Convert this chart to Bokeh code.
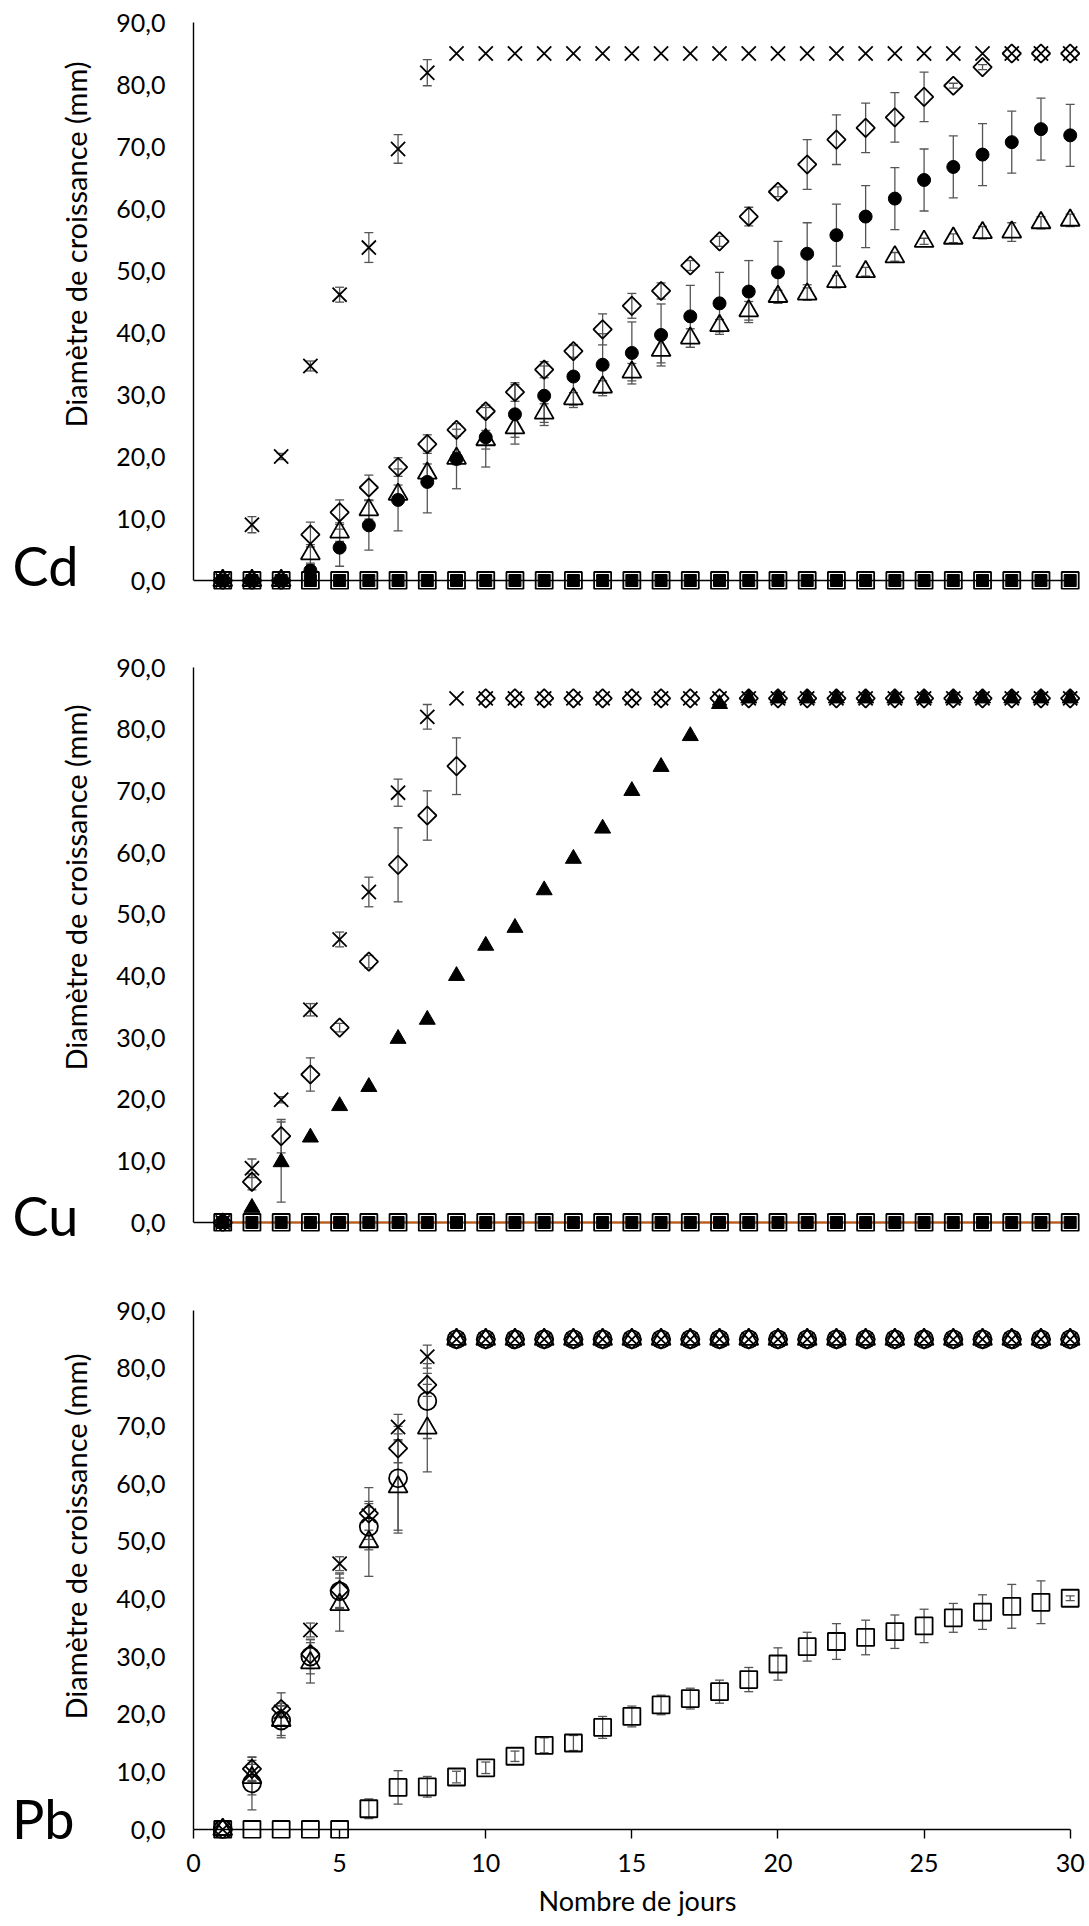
import math
from bokeh.plotting import figure
from bokeh.layouts import column, row
from bokeh.models import Range1d, Whisker, TeeHead, ColumnDataSource, FixedTicker
from bokeh.core.properties import value
from bokeh.embed import file_html
from bokeh.resources import INLINE

# ---------------- data ----------------
days = [1, 2, 3, 4, 5, 6, 7, 8, 9, 10, 11, 12, 13, 14, 15,
        16, 17, 18, 19, 20, 21, 22, 23, 24, 25, 26, 27, 28, 29, 30]
y_ticks = [0, 10, 20, 30, 40, 50, 60, 70, 80, 90]
y_tick_labels = ["0,0", "10,0", "20,0", "30,0", "40,0", "50,0", "60,0", "70,0", "80,0", "90,0"]
x_ticks = [0, 5, 10, 15, 20, 25, 30]
x_tick_labels = ["0", "5", "10", "15", "20", "25", "30"]
y_title = "Diamètre de croissance (mm)"
x_title = "Nombre de jours"
panel_names = ["Cd", "Cu", "Pb"]

# Cd
cd_x = [0, 9.0, 20.0, 34.6, 46.1, 53.7, 69.6, 81.9, 85, 85, 85, 85, 85, 85, 85,
        85, 85, 85, 85, 85, 85, 85, 85, 85, 85, 85, 85, 85, 85, 85]
cd_x_err = [0, 1.3, 0.5, 0.8, 1.2, 2.4, 2.3, 2.1, 0, 0, 0, 0, 0, 0, 0,
            0, 0, 0, 0, 0, 0, 0, 0, 0, 0, 0, 0, 0, 0, 0]
cd_diamond = [0, 0, 0, 7.4, 11.0, 15.0, 18.3, 22.0, 24.3, 27.3, 30.4, 34.0, 37.0, 40.5, 44.3,
              46.7, 50.8, 54.7, 58.7, 62.7, 67.1, 71.1, 73.0, 74.7, 78.0, 79.8, 82.8, 85, 85, 85]
cd_diamond_err = [0, 0, 0, 2.0, 2.0, 2.0, 1.5, 1.5, 1.0, 1.0, 1.5, 1.3, 1.0, 2.5, 2.0,
                  1.3, 0.8, 0.8, 1.5, 0.8, 4.0, 4.0, 4.0, 4.0, 4.0, 0.4, 0.4, 0, 0, 0]
cd_circle = [0, 0, 0, 1.6, 5.3, 8.9, 13.0, 15.9, 19.6, 23.1, 26.8, 29.8, 32.9, 34.8, 36.7,
             39.6, 42.6, 44.7, 46.6, 49.7, 52.7, 55.7, 58.7, 61.6, 64.6, 66.7, 68.7, 70.7, 72.8, 71.8]
cd_circle_err = [0, 0, 0, 1.0, 3.0, 4.0, 5.0, 5.0, 4.8, 4.8, 4.8, 4.8, 5.0, 5.0, 5.0,
                 5.0, 5.0, 5.0, 5.0, 5.0, 5.0, 5.0, 5.0, 5.0, 5.0, 5.0, 5.0, 5.0, 5.0, 5.0]
cd_triangle = [0, 0, 0, 4.3, 7.8, 11.4, 13.9, 17.3, 19.7, 22.7, 24.6, 27.0, 29.3, 31.2, 33.6,
               37.1, 39.1, 41.1, 43.5, 45.8, 46.2, 48.2, 49.8, 52.2, 54.7, 55.2, 56.1, 56.2, 57.7, 58.1]
cd_triangle_err = [0, 0, 0, 1.5, 1.5, 1.5, 1.5, 1.5, 1.0, 1.5, 1.5, 1.5, 1.0, 1.0, 1.4,
                   2.0, 1.5, 1.0, 1.5, 1.0, 1.0, 1.0, 0.7, 0.7, 0.5, 0.7, 1.0, 1.5, 1.0, 1.0]
cd_square_open = [0, 0, 0, 0, 0, 0, 0, 0, 0, 0, 0, 0, 0, 0, 0,
                  0, 0, 0, 0, 0, 0, 0, 0, 0, 0, 0, 0, 0, 0, 0]
cd_square_filled = [0, 0, 0, 0, 0, 0, 0, 0, 0, 0, 0, 0, 0, 0, 0,
                    0, 0, 0, 0, 0, 0, 0, 0, 0, 0, 0, 0, 0, 0, 0]

# Cu
cu_x = [0, 8.8, 19.9, 34.5, 45.9, 53.6, 69.7, 82.0, 85, 85, 85, 85, 85, 85, 85,
        85, 85, 85, 85, 85, 85, 85, 85, 85, 85, 85, 85, 85, 85, 85]
cu_x_err = [0, 1.5, 0.5, 1.0, 1.2, 2.4, 2.2, 2.0, 0, 0, 0, 0, 0, 0, 0,
            0, 0, 0, 0, 0, 0, 0, 0, 0, 0, 0, 0, 0, 0, 0]
cu_diamond = [0, 6.6, 14.0, 24.0, 31.6, 42.3, 58.0, 66.0, 74.0, 85, 85, 85, 85, 85, 85,
              85, 85, 85, 85, 85, 85, 85, 85, 85, 85, 85, 85, 85, 85, 85]
cu_diamond_err = [0, 1.3, 2.7, 2.7, 0.7, 1.0, 6.0, 4.0, 4.6, 0, 0, 0, 0, 0, 0,
                  0, 0, 0, 0, 0, 0, 0, 0, 0, 0, 0, 0, 0, 0, 0]
cu_triangle = [0, 2.4, 9.8, 13.8, 18.9, 22.0, 29.8, 32.9, 40.0, 44.9, 47.8, 53.9, 59.0, 63.9, 70.0,
               73.9, 78.9, 84.1, 85, 85, 85, 85, 85, 85, 85, 85, 85, 85, 85, 85]
cu_triangle_err = [0, 0, 6.5, 0, 0, 0, 0, 0, 0, 0, 0, 0, 0, 0, 0,
                   0, 0, 0, 0, 0, 0, 0, 0, 0, 0, 0, 0, 0, 0, 0]
cu_square_open = [0, 0, 0, 0, 0, 0, 0, 0, 0, 0, 0, 0, 0, 0, 0,
                  0, 0, 0, 0, 0, 0, 0, 0, 0, 0, 0, 0, 0, 0, 0]
cu_square_filled = [0, 0, 0, 0, 0, 0, 0, 0, 0, 0, 0, 0, 0, 0, 0,
                    0, 0, 0, 0, 0, 0, 0, 0, 0, 0, 0, 0, 0, 0, 0]

# Pb
pb_x = [0, 9.8, 20.4, 34.6, 46.1, 54.4, 69.8, 82.0, 85, 85, 85, 85, 85, 85, 85,
        85, 85, 85, 85, 85, 85, 85, 85, 85, 85, 85, 85, 85, 85, 85]
pb_x_err = [0, 1.5, 1.0, 1.2, 1.2, 2.5, 2.2, 2.0, 0, 0, 0, 0, 0, 0, 0,
            0, 0, 0, 0, 0, 0, 0, 0, 0, 0, 0, 0, 0, 0, 0]
pb_diamond = [0, 10.5, 20.9, 30.4, 41.5, 54.8, 66.1, 77.1, 85, 85, 85, 85, 85, 85, 85,
              85, 85, 85, 85, 85, 85, 85, 85, 85, 85, 85, 85, 85, 85, 85]
pb_diamond_err = [0, 2.0, 2.8, 2.5, 3.0, 4.5, 2.5, 2.0, 0, 0, 0, 0, 0, 0, 0,
                  0, 0, 0, 0, 0, 0, 0, 0, 0, 0, 0, 0, 0, 0, 0]
pb_circle = [0, 8.0, 18.9, 30.0, 41.3, 52.5, 60.9, 74.3, 85, 85, 85, 85, 85, 85, 85,
             85, 85, 85, 85, 85, 85, 85, 85, 85, 85, 85, 85, 85, 85, 85]
pb_circle_err = [0, 4.6, 3.0, 3.0, 3.0, 4.0, 9.0, 6.5, 0, 0, 0, 0, 0, 0, 0,
                 0, 0, 0, 0, 0, 0, 0, 0, 0, 0, 0, 0, 0, 0, 0]
pb_triangle = [0, 9.0, 18.9, 28.9, 39.0, 49.9, 59.4, 69.6, 85, 85, 85, 85, 85, 85, 85,
               85, 85, 85, 85, 85, 85, 85, 85, 85, 85, 85, 85, 85, 85, 85]
pb_triangle_err = [0, 3.0, 2.6, 3.5, 4.6, 6.0, 8.0, 7.6, 0, 0, 0, 0, 0, 0, 0,
                   0, 0, 0, 0, 0, 0, 0, 0, 0, 0, 0, 0, 0, 0, 0]
pb_square = [0, 0, 0, 0, 0, 3.6, 7.3, 7.4, 9.1, 10.7, 12.7, 14.6, 15.0, 17.7, 19.6,
             21.6, 22.7, 23.9, 26.0, 28.7, 31.7, 32.6, 33.3, 34.3, 35.3, 36.7, 37.7, 38.7, 39.4, 40.1]
pb_square_err = [0, 0, 0, 0, 0, 1.7, 2.9, 1.8, 1.0, 1.0, 0.9, 1.3, 1.3, 1.9, 1.8,
                 1.7, 1.8, 2.0, 2.1, 2.8, 2.5, 3.1, 3.0, 2.9, 2.9, 2.5, 3.0, 3.8, 3.7, 0.4]

# ---------------- style / layout ----------------
FONT = "Lato"
ERR = "#555555"
TOTAL_H = 1924
TXT_W = 100                  # left strip holding panel names and y titles
MAIN_W = 1089 - TXT_W
LEFT, RIGHT = 93, 8          # y axis at page x = 193
FRAME_W = MAIN_W - LEFT - RIGHT
AXIS_PX = 876.7              # pixels from day 0 to day 30
X_END = x_ticks[-1] * FRAME_W / AXIS_PX


def whiskers(p, xs, ys, es):
    sx, up, lo = [], [], []
    for x, y, e in zip(xs, ys, es):
        if e > 0:
            sx.append(x)
            up.append(y + e)
            lo.append(y - e)
    src = ColumnDataSource(dict(x=sx, upper=up, lower=lo))
    p.add_layout(Whisker(source=src, base="x", upper="upper", lower="lower",
                         dimension="height", line_color=ERR, line_width=1.3,
                         upper_head=TeeHead(size=9, line_color=ERR, line_width=1.3),
                         lower_head=TeeHead(size=9, line_color=ERR, line_width=1.3)))


def open_pts(p, ys, marker, size, angle=0.0, lw=1.8):
    p.scatter(days, ys, marker=marker, size=size, angle=angle,
              fill_color=None, line_color="black", line_width=lw)


def filled_pts(p, ys, marker, size, angle=0.0):
    p.scatter(days, ys, marker=marker, size=size, angle=angle,
              fill_color="black", line_color="black", line_width=1)


def make_panel(height, top, bottom, span_px, with_x_axis):
    px_y = span_px / 90.0
    frame_h = height - top - bottom
    y0 = y_ticks[-1] - frame_h / px_y
    p = figure(width=MAIN_W, height=height, output_backend="svg", toolbar_location=None,
               x_range=Range1d(x_ticks[0], X_END), y_range=Range1d(y0, y_ticks[-1]),
               x_axis_type="linear" if with_x_axis else None,
               min_border_left=LEFT, min_border_right=RIGHT,
               min_border_top=top, min_border_bottom=bottom)
    p.outline_line_color = None
    p.background_fill_color = "white"
    p.border_fill_color = "white"
    p.ygrid.grid_line_color = None
    yax = p.yaxis[0]
    yax.ticker = FixedTicker(ticks=y_ticks)
    yax.major_label_overrides = {t: l for t, l in zip(y_ticks, y_tick_labels)}
    yax.bounds = (y_ticks[0], y_ticks[-1])
    yax.major_tick_in = 0
    yax.major_tick_out = 0
    yax.minor_tick_line_color = None
    yax.axis_line_color = "black"
    yax.axis_line_width = 1.4
    yax.major_label_standoff = 28
    yax.major_label_text_font = FONT
    yax.major_label_text_font_size = "25px"
    yax.major_label_text_color = "black"
    if with_x_axis:
        p.xgrid.grid_line_color = None
        xax = p.xaxis[0]
        xax.ticker = FixedTicker(ticks=x_ticks)
        xax.major_label_overrides = {t: l for t, l in zip(x_ticks, x_tick_labels)}
        xax.axis_line_color = None
        xax.major_tick_in = 9
        xax.major_tick_out = 0
        xax.major_tick_line_color = "black"
        xax.major_tick_line_width = 1.4
        xax.minor_tick_line_color = None
        xax.major_label_standoff = 15
        xax.major_label_text_font = FONT
        xax.major_label_text_font_size = "25px"
        xax.major_label_text_color = "black"
        xax.axis_label = x_title
        xax.axis_label_standoff = 9
        xax.axis_label_text_font = FONT
        xax.axis_label_text_font_size = "27px"
        xax.axis_label_text_font_style = "normal"
        xax.axis_label_text_color = "black"
    # horizontal axis line through zero
    p.segment(x0=[x_ticks[0]], y0=[0], x1=[x_ticks[-1]], y1=[0],
              line_color="black", line_width=1.6)
    return p


# ---- Cd ----
p1 = make_panel(619, 22, 30, 558.0, False)
whiskers(p1, days, cd_x, cd_x_err)
whiskers(p1, days, cd_diamond, cd_diamond_err)
whiskers(p1, days, cd_circle, cd_circle_err)
whiskers(p1, days, cd_triangle, cd_triangle_err)
open_pts(p1, cd_square_open, "square", 17)
filled_pts(p1, cd_square_filled, "square", 12)
filled_pts(p1, cd_circle, "circle", 13)
open_pts(p1, cd_triangle, "triangle", 19)
open_pts(p1, cd_diamond, "square", 13, angle=math.pi / 4)
open_pts(p1, cd_x, "x", 20)

# ---- Cu ----
p2 = make_panel(642, 48, 30, 555.0, False)
whiskers(p2, days, cu_x, cu_x_err)
whiskers(p2, days, cu_diamond, cu_diamond_err)
whiskers(p2, days, cu_triangle, cu_triangle_err)
p2.line(days, cu_square_filled, line_color="#C55A11", line_width=1.8)
open_pts(p2, cu_square_open, "square", 17)
filled_pts(p2, cu_square_filled, "square", 12)
filled_pts(p2, cu_triangle, "triangle", 16)
open_pts(p2, cu_diamond, "square", 13, angle=math.pi / 4)
open_pts(p2, cu_x, "x", 20)

# ---- Pb ----
p3 = make_panel(663, 49, 86, 519.0, True)
whiskers(p3, days, pb_x, pb_x_err)
whiskers(p3, days, pb_diamond, pb_diamond_err)
whiskers(p3, days, pb_circle, pb_circle_err)
whiskers(p3, days, pb_triangle, pb_triangle_err)
whiskers(p3, days, pb_square, pb_square_err)
open_pts(p3, pb_square, "square", 17)
open_pts(p3, pb_circle, "circle", 18)
open_pts(p3, pb_triangle, "triangle", 19)
open_pts(p3, pb_diamond, "square", 13, angle=math.pi / 4)
open_pts(p3, pb_x, "x", 20)

# ---- left strip: panel names and rotated y titles (page pixel coordinates) ----
name_x = [12, 12, 11.5]
name_base_y = [565, 1215, 1818]
title_x = [75.3, 75.3, 75.3]
title_mid_y = [244, 887, 1536]
t = figure(width=TXT_W, height=TOTAL_H, output_backend="svg", toolbar_location=None,
           x_range=Range1d(0, TXT_W), y_range=Range1d(TOTAL_H, 0),
           x_axis_type=None, y_axis_type=None,
           min_border_left=0, min_border_right=0, min_border_top=0, min_border_bottom=0)
t.outline_line_color = None
t.grid.visible = False
t.text(x=name_x, y=name_base_y, text=panel_names, text_font=value(FONT),
       text_font_size="54px", text_color="black", text_align="left",
       text_baseline="alphabetic")
t.text(x=title_x, y=title_mid_y, text=[y_title, y_title, y_title], angle=math.pi / 2,
       text_font=value(FONT), text_font_size="29px", text_color="black",
       text_align="center", text_baseline="middle")

layout = row(t, column(p1, p2, p3, spacing=0), spacing=0)
open("out.html", "w").write(file_html(layout, INLINE))
